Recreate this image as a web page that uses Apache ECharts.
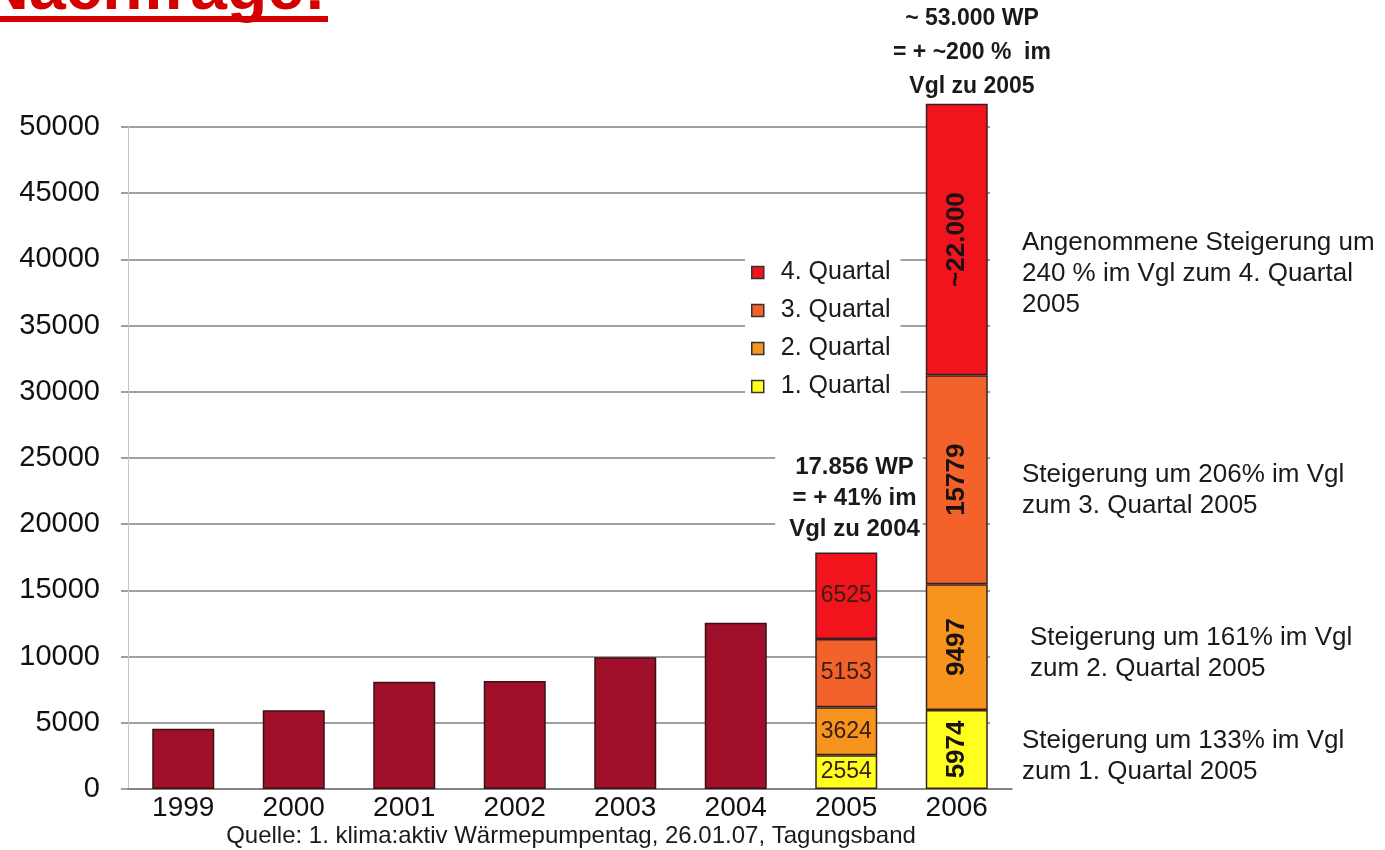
<!DOCTYPE html>
<html>
<head>
<meta charset="utf-8">
<script src="https://cdn.jsdelivr.net/npm/echarts@6/dist/echarts.min.js"></script>
<style>
  html, body { margin: 0; padding: 0; background: #fff; }
  #chart { width: 1385px; height: 850px; }
</style>
</head>
<body>
<div id="chart"></div>
<script>
let years = ['1999', '2000', '2001', '2002', '2003', '2004', '2005', '2006'];
let yearTotals = [4550, 5950, 8100, 8150, 9950, 12550, null, null];
let q1 = [null, null, null, null, null, null, 2554, 5974];
let q2 = [null, null, null, null, null, null, 3624, 9497];
let q3 = [null, null, null, null, null, null, 5153, 15779];
let q4 = [null, null, null, null, null, null, 6525, 20500];
let q4Text2006 = '~22.000';
let yTicks = [0, 50000, 5000]; // min, max, step

let fontFam = '"Liberation Sans", Arial, sans-serif';
let quarterColors = ['#ffff1e', '#f7941e', '#f3622a', '#f2141c'];

// 2005: plain labels, 2006: rotated bold labels
function quarterData(values, special) {
    return values.map(function (v, i) {
        if (v === null) return null;
        if (i === 7) {
            return {
                value: v,
                label: {
                    show: true, rotate: 90, position: 'inside',
                    fontSize: 26, fontWeight: 'bold', color: '#1a1111',
                    fontFamily: fontFam,
                    formatter: special || '{c}'
                }
            };
        }
        return {
            value: v,
            label: {
                show: true, position: 'inside',
                fontSize: 23, color: '#3a1d14', fontFamily: fontFam,
                formatter: '{c}'
            }
        };
    });
}

function quarterSeries(name, values, color, special) {
    return {
        name: name,
        type: 'bar',
        stack: 'wp',
        barWidth: 62,
        clip: false,
        itemStyle: { color: color, borderColor: '#3a2020', borderWidth: 1.5 },
        data: quarterData(values, special)
    };
}

let chart = echarts.init(document.getElementById('chart'));

let option = {
    backgroundColor: '#fff',
    animation: false,
    textStyle: { fontFamily: fontFam },
    grid: { left: 128, top: 127, width: 884, height: 662 },
    legend: {
        orient: 'vertical',
        left: 745,
        top: 252,
        selectedMode: false,
        backgroundColor: '#fff',
        padding: [8, 10, 6, 6],
        itemWidth: 12,
        itemHeight: 12,
        itemGap: 13,
        icon: 'rect',
        itemStyle: { borderColor: '#333', borderWidth: 1.5 },
        textStyle: { fontSize: 25, color: '#1a1a1a', fontFamily: fontFam, padding: [0, 0, 0, 12] },
        data: ['4. Quartal', '3. Quartal', '2. Quartal', '1. Quartal']
    },
    xAxis: {
        type: 'category',
        data: years,
        axisLine: { lineStyle: { color: '#7a7a7a', width: 1.5 } },
        axisTick: { show: false },
        axisLabel: { fontSize: 28, color: '#111', margin: 5, fontFamily: fontFam }
    },
    yAxis: {
        type: 'value',
        min: yTicks[0],
        max: yTicks[1],
        interval: yTicks[2],
        axisLine: { show: true, lineStyle: { color: '#c4c4c4', width: 1 } },
        axisTick: { show: true, length: 7, lineStyle: { color: '#808080', width: 1.5 } },
        axisLabel: {
            fontSize: 29, color: '#111', margin: 28, padding: [14, 0, 0, 0], fontFamily: fontFam,
            formatter: function (v) { return String(v); }
        },
        splitLine: { lineStyle: { color: '#808080', width: 1.5 } }
    },
    series: [
        {
            name: 'Gesamt',
            type: 'bar',
            stack: 'wp',
            barWidth: 62,
            itemStyle: { color: '#a0102a', borderColor: '#3a1010', borderWidth: 1.5 },
            data: yearTotals
        },
        quarterSeries('1. Quartal', q1, quarterColors[0]),
        quarterSeries('2. Quartal', q2, quarterColors[1]),
        quarterSeries('3. Quartal', q3, quarterColors[2]),
        quarterSeries('4. Quartal', q4, quarterColors[3], q4Text2006)
    ],
    graphic: [
        {   // cut-off headline at the very top
            type: 'text', x: 326, y: -9, z: 10,
            style: {
                text: 'Nachfrage!', fill: '#d40000', textAlign: 'right', textVerticalAlign: 'middle',
                font: 'bold 66px ' + fontFam
            }
        },
        { type: 'rect', z: 10, shape: { x: 0, y: 16, width: 328, height: 6 }, style: { fill: '#d40000' } },
        // hide grid lines right of the 2006 bar
        { type: 'rect', z: 1, shape: { x: 990, y: 100, width: 30, height: 688 }, style: { fill: '#fff' } },
        {
            type: 'text', x: 972, y: 2, z: 10,
            style: {
                text: '~ 53.000 WP\n= + ~200 %  im\nVgl zu 2005', textAlign: 'center',
                font: 'bold 23px ' + fontFam, lineHeight: 34, fill: '#1a1a1a'
            }
        },
        {
            type: 'text', x: 849, y: 450, z: 10,
            style: {
                text: '17.856 WP\n= + 41% im\nVgl zu 2004', textAlign: 'center',
                font: 'bold 24px ' + fontFam, lineHeight: 31, fill: '#1a1a1a',
                backgroundColor: '#fff', padding: [2, 3, 2, 14]
            }
        },
        {
            type: 'text', x: 1022, y: 227, z: 10,
            style: {
                text: 'Angenommene Steigerung um\n240 % im Vgl zum 4. Quartal\n2005',
                font: '26px ' + fontFam, lineHeight: 31, fill: '#1a1a1a'
            }
        },
        {
            type: 'text', x: 1022, y: 459, z: 10,
            style: { text: 'Steigerung um 206% im Vgl\nzum 3. Quartal 2005', font: '26px ' + fontFam, lineHeight: 31, fill: '#1a1a1a' }
        },
        {
            type: 'text', x: 1030, y: 622, z: 10,
            style: { text: 'Steigerung um 161% im Vgl\nzum 2. Quartal 2005', font: '26px ' + fontFam, lineHeight: 31, fill: '#1a1a1a' }
        },
        {
            type: 'text', x: 1022, y: 725, z: 10,
            style: { text: 'Steigerung um 133% im Vgl\nzum 1. Quartal 2005', font: '26px ' + fontFam, lineHeight: 31, fill: '#1a1a1a' }
        },
        {
            type: 'text', x: 571, y: 836, z: 10,
            style: {
                text: 'Quelle: 1. klima:aktiv Wärmepumpentag, 26.01.07, Tagungsband',
                textAlign: 'center', textVerticalAlign: 'middle',
                font: '24px ' + fontFam, fill: '#1a1a1a'
            }
        }
    ]
};

chart.setOption(option);
</script>
</body>
</html>
